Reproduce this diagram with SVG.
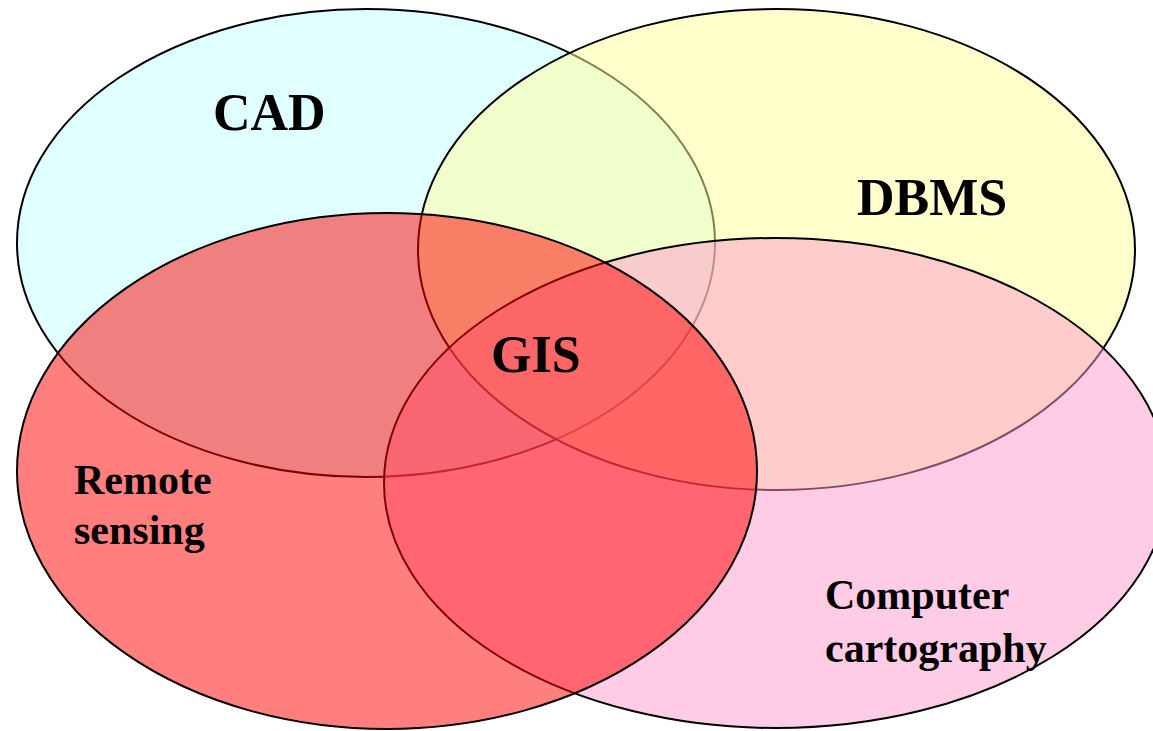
<svg xmlns="http://www.w3.org/2000/svg" width="1153" height="731" viewBox="0 0 1153 731">
<style>
.e{stroke:#000;stroke-width:2;}
.t{font-family:"Liberation Serif","Times New Roman",serif;font-weight:bold;fill:#000;}
.big{font-size:52px;}
.sm{font-size:42px;}
</style>
<rect width="1153" height="731" fill="#fff"/>
<g id="cad">
<ellipse class="e" cx="366" cy="243" rx="349" ry="234" fill="#e0ffff"/>
</g>
<g id="dbms">
<ellipse class="e" cx="776.5" cy="249.5" rx="358.5" ry="240.5" fill="#ffff99" fill-opacity="0.5"/>
</g>
<g id="cartography">
<ellipse class="e" cx="776" cy="483" rx="392" ry="245" fill="#ff99cc" fill-opacity="0.5"/>
</g>
<g id="remote">
<ellipse class="e" cx="387" cy="471" rx="370" ry="258" fill="#ff0000" fill-opacity="0.5"/>
</g>
<g id="connectors"></g>
<g id="labels">
<text class="t big" x="213" y="130">CAD</text>
<text class="t big" x="857" y="215">DBMS</text>
<text class="t big" x="491" y="372">GIS</text>
<text class="t sm" x="74" y="494">Remote</text>
<text class="t sm" x="74" y="544">sensing</text>
<text class="t sm" x="825" y="609">Computer</text>
<text class="t sm" x="825" y="662">cartography</text>
</g>
</svg>
